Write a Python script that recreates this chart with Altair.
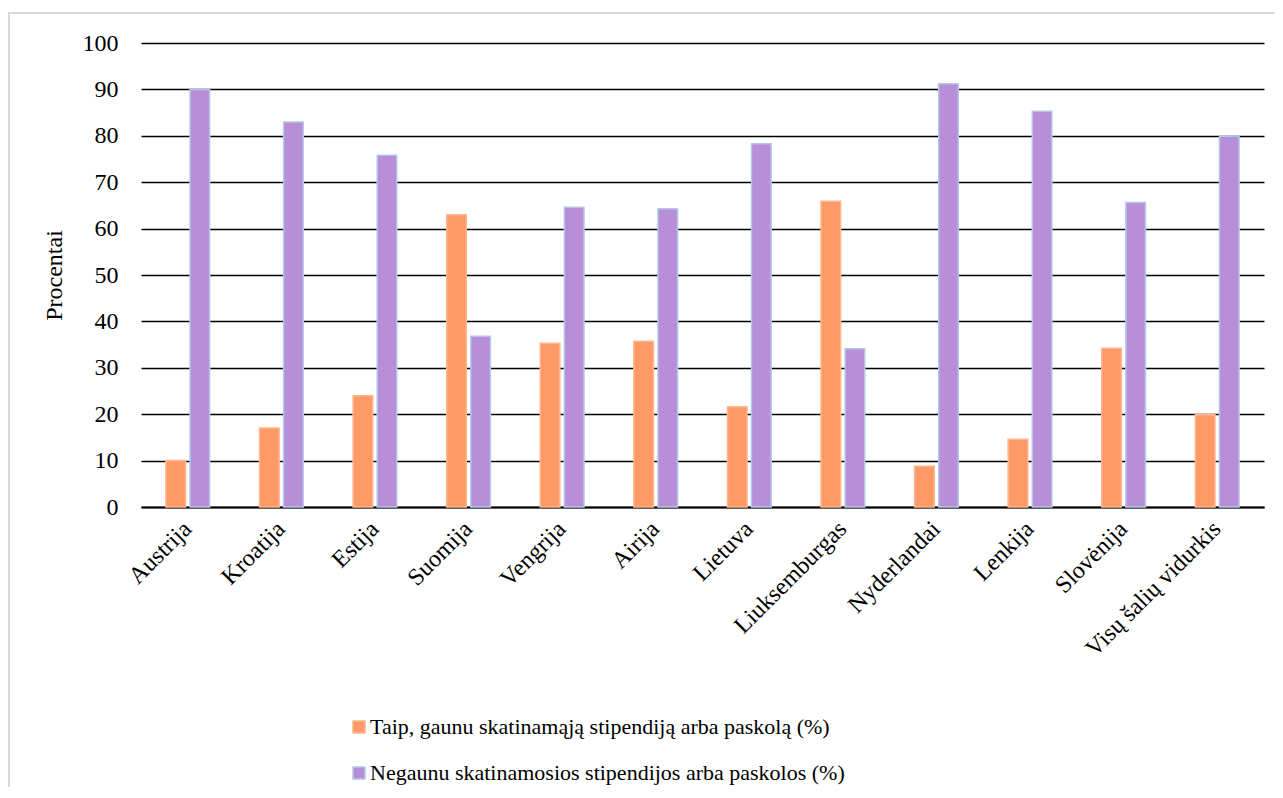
import altair as alt
import pandas as pd

countries = ["Austrija", "Kroatija", "Estija", "Suomija", "Vengrija", "Airija",
             "Lietuva", "Liuksemburgas", "Nyderlandai", "Lenkija", "Slovėnija",
             "Visų šalių vidurkis"]
series = ["Taip, gaunu skatinamąją stipendiją arba paskolą (%)",
          "Negaunu skatinamosios stipendijos arba paskolos (%)"]
taip = [10, 17, 24, 63, 35.3, 35.7, 21.6, 65.9, 8.8, 14.6, 34.2, 19.9]
negaunu = [90, 83, 75.8, 36.8, 64.6, 64.3, 78.3, 34.1, 91.2, 85.3, 65.6, 79.9]
y_ticks = list(range(0, 101, 10))

rows = []
for c, a, b in zip(countries, taip, negaunu):
    rows.append({"Šalis": c, "Serija": series[0], "Reikšmė": a})
    rows.append({"Šalis": c, "Serija": series[1], "Reikšmė": b})
df = pd.DataFrame(rows)

W, H = 1123, 464
FONT = "Liberation Serif"

bars = alt.Chart(df).mark_bar(strokeWidth=1.5).encode(
    x=alt.X("Šalis:N", sort=countries, title=None,
            scale=alt.Scale(paddingInner=0.533, paddingOuter=0.2665),
            axis=alt.Axis(labelAngle=-45, labelAlign="right", labelBaseline="middle",
                          labelFont=FONT, labelFontSize=24, labelColor="black",
                          labelPadding=18, ticks=False, tickSize=0,
                          domainColor="black", domainWidth=2, grid=False)),
    xOffset=alt.XOffset("Serija:N", sort=series,
                        scale=alt.Scale(paddingInner=0.187, paddingOuter=0)),
    y=alt.Y("Reikšmė:Q", title="Procentai",
            scale=alt.Scale(domain=[0, 100], nice=False),
            axis=alt.Axis(values=y_ticks, labelFont=FONT, labelFontSize=24,
                          labelColor="black", labelPadding=23, ticks=False, tickSize=0,
                          domain=False, gridColor="black", gridWidth=1.7,
                          titleFont=FONT, titleFontSize=24, titleFontWeight="normal",
                          titleColor="black", titlePadding=16)),
    color=alt.Color("Serija:N", sort=series,
                    scale=alt.Scale(domain=series, range=["#ff9a66", "#b98ed9"]),
                    legend=alt.Legend(title=None, orient="none", legendX=207, legendY=673,
                                      direction="vertical", symbolType="square",
                                      symbolSize=144, labelFont=FONT, labelFontSize=22,
                                      labelColor="black", labelOffset=0, rowPadding=24,
                                      padding=0, symbolStrokeWidth=1.5, labelLimit=800)),
    stroke=alt.Stroke("Serija:N", sort=series,
                      scale=alt.Scale(domain=series, range=["#ffb58f", "#b4c7e7"]),
                      legend=None),
)

frame = alt.Chart(pd.DataFrame({"k": [0]})).mark_rect(
    filled=False, stroke="#d9d9d9", strokeWidth=2
).encode(x=alt.value(-132), x2=alt.value(W + 200), y=alt.value(-30), y2=alt.value(H + 600))

chart = alt.layer(frame, bars).properties(
    width=W, height=H,
    autosize=alt.AutoSizeParams(type="none"),
    padding={"left": 133, "top": 35, "right": 11, "bottom": 280},
).configure(background="white", font=FONT).configure_view(stroke=None).configure_legend(
    labelFont=FONT, labelFontSize=22, labelColor="black", labelLimit=800
).configure_axis(labelFont=FONT, titleFont=FONT)

chart.save("out.html", embed_options={"renderer": "svg", "actions": False})
